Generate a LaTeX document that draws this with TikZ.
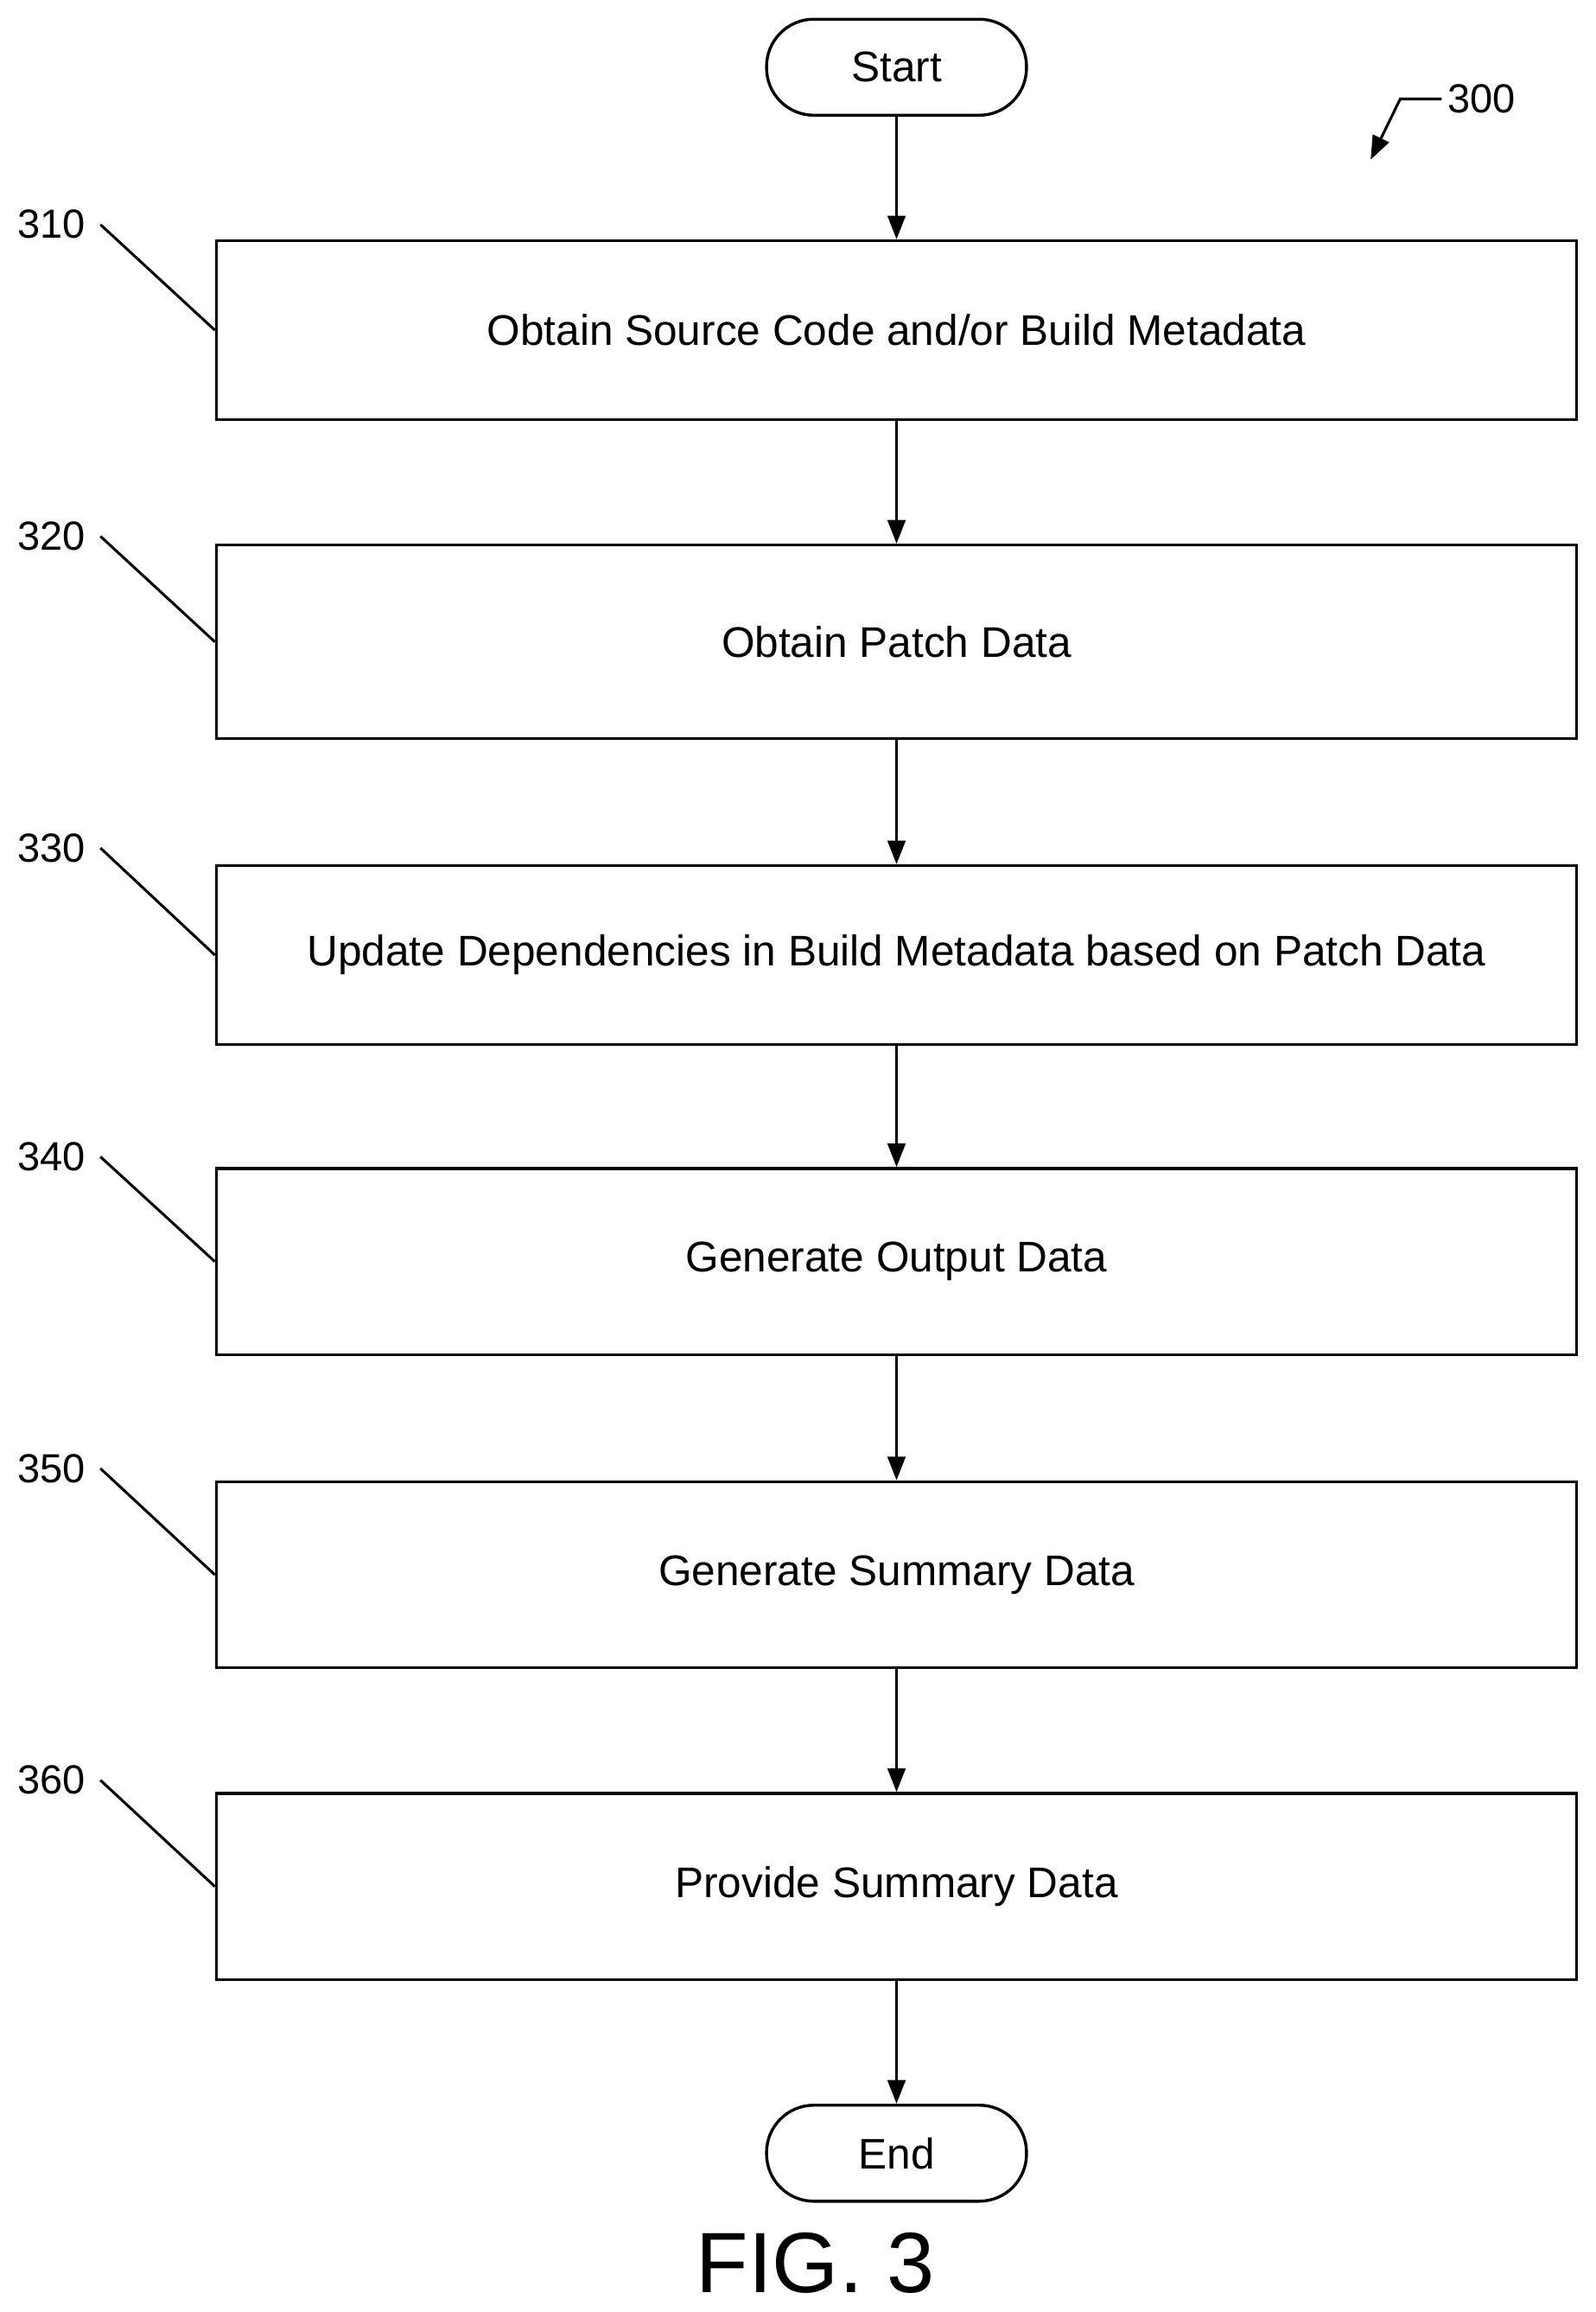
\documentclass[tikz,border=0pt]{standalone}
\usepackage{fontspec}
\setmainfont{Liberation Sans}
\usetikzlibrary{arrows.meta}
\begin{document}
\begin{tikzpicture}[x=1pt,y=-1pt,line width=2pt,
 box/.style={draw,minimum width=921pt,minimum height=121pt,font=\fontsize{29}{32}\selectfont,inner sep=0},
 term/.style={draw,rounded corners=32pt,minimum width=176pt,minimum height=65pt,font=\fontsize{29}{32}\selectfont,inner sep=0},
 lbl/.style={font=\fontsize{27.5}{30}\selectfont},
 arr/.style={-{Triangle[length=16pt,width=12pt]}}]
\useasboundingbox (0,0) rectangle (1080,1565);
\node[term] (s) at (607,45.5) {Start};
\node[box] (b1) at (607,223.5) {Obtain Source Code and/or Build Metadata};
\node[box,minimum height=131pt] (b2) at (607,434.5) {Obtain Patch Data};
\node[box] (b3) at (607,646.5) {Update Dependencies in Build Metadata based on Patch Data};
\node[box,minimum height=126pt] (b4) at (607,854) {Generate Output Data};
\node[box,minimum height=126pt] (b5) at (607,1066) {Generate Summary Data};
\node[box,minimum height=126pt] (b6) at (607,1277) {Provide Summary Data};
\node[term] (e) at (607,1457.5) {End};
\draw[arr] (s) -- (b1);
\draw[arr] (b1) -- (b2);
\draw[arr] (b2) -- (b3);
\draw[arr] (b3) -- (b4);
\draw[arr] (b4) -- (b5);
\draw[arr] (b5) -- (b6);
\draw[arr] (b6) -- (e);
\foreach \n/\t/\y in {b1/310/152,b2/320/363,b3/330/574,b4/340/783,b5/350/994,b6/360/1205}{
 \node[lbl,anchor=east] (l\t) at (62,\y) {\t};
 \draw[line width=1.8pt] (68,\y) -- (\n.west);
}
\node[lbl,anchor=west] (l300) at (976,67) {300};
\coordinate (c300) at (948,67);
\draw[line width=1.8pt,arr] (l300.west) -- (c300) -- (928,108);
\node[font=\fontsize{58}{64}\selectfont] (fig) at (552,1532) {FIG. 3};
\end{tikzpicture}
\end{document}
